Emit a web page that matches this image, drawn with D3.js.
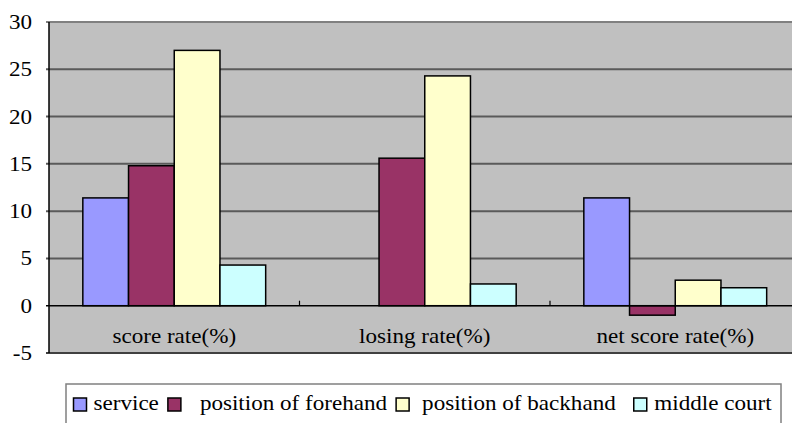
<!DOCTYPE html>
<html>
<head>
<meta charset="utf-8">
<script src="https://cdn.jsdelivr.net/npm/d3@7"></script>
</head>
<body style="margin:0;background:#fff">
<svg width="792" height="423"></svg>
<script>
// chart data
var categories = ["score rate(%)", "losing rate(%)", "net score rate(%)"];
var seriesNames = ["service", "position of forehand", "position of backhand", "middle court"];
var service   = [11.4, 0, 11.4];
var forehand  = [14.8, 15.6, -1.0];
var backhand  = [27.0, 24.3, 2.7];
var middle    = [4.3, 2.3, 1.9];
var yTicks = [-5, 0, 5, 10, 15, 20, 25, 30];

var seriesValues = [service, forehand, backhand, middle];
var colors = ["#9999ff", "#993366", "#ffffcc", "#ccffff"];
var stretch = 1.1; // text looks a bit wide in the original
var serif = "Liberation Serif, DejaVu Serif, serif";

var svg = d3.select("svg")
  .attr("font-family", serif)
  .attr("font-size", 21)
  .style("font-family", serif)
  .style("font-size", "21px");
var plot = { left: 49, top: 22, right: 800.5, bottom: 353 };

var x = d3.scaleBand().domain(categories).range([plot.left, plot.right]);
var xs = d3.scaleBand().domain(d3.range(seriesNames.length))
  .range([0, x.bandwidth()]).paddingInner(0).paddingOuter(0.74);
var y = d3.scaleLinear().domain([-5, 30]).range([plot.bottom, plot.top]);

// plot background
svg.append("rect")
  .attr("x", plot.left).attr("y", plot.top)
  .attr("width", plot.right - plot.left).attr("height", plot.bottom - plot.top)
  .attr("fill", "#c0c0c0");

// gridlines
svg.append("g").selectAll("line")
  .data(yTicks.filter(function(t){ return t != 0 && t != -5; }))
  .enter().append("line")
  .attr("x1", plot.left - 3).attr("x2", plot.right)
  .attr("y1", function(d){ return y(d); }).attr("y2", function(d){ return y(d); })
  .attr("stroke", function(d){ return d == 30 ? "#808080" : "#5a5a5a"; })
  .attr("stroke-width", 2);

// bottom border
svg.append("line")
  .attr("x1", plot.left - 3).attr("x2", plot.right)
  .attr("y1", y(-5)).attr("y2", y(-5))
  .attr("stroke", "#404040").attr("stroke-width", 2);

// bars
var groups = svg.append("g").selectAll("g")
  .data(categories).enter().append("g")
  .attr("transform", function(d){ return "translate(" + x(d) + ",0)"; });

groups.selectAll("rect")
  .data(function(d, i){
    return seriesValues.map(function(vals, s){ return { s: s, v: vals[i] }; });
  })
  .enter().filter(function(d){ return d.v != 0; }).append("rect")
  .attr("x", function(d){ return xs(d.s); })
  .attr("width", xs.bandwidth())
  .attr("y", function(d){ return y(Math.max(0, d.v)); })
  .attr("height", function(d){ return Math.abs(y(d.v) - y(0)); })
  .attr("fill", function(d){ return colors[d.s]; })
  .attr("stroke", "#000").attr("stroke-width", 1.5);

// zero line and category ticks
svg.append("line")
  .attr("x1", plot.left - 3).attr("x2", plot.right)
  .attr("y1", y(0)).attr("y2", y(0))
  .attr("stroke", "#000").attr("stroke-width", 1.5);

svg.append("g").selectAll("line")
  .data(categories.slice(1)).enter().append("line")
  .attr("x1", function(d){ return x(d); }).attr("x2", function(d){ return x(d); })
  .attr("y1", y(0) - 5).attr("y2", y(0))
  .attr("stroke", "#000").attr("stroke-width", 1.2);

// left axis
svg.append("line")
  .attr("x1", plot.left).attr("x2", plot.left)
  .attr("y1", plot.top).attr("y2", plot.bottom)
  .attr("stroke", "#000").attr("stroke-width", 1.5);

// y tick labels
svg.append("g").selectAll("text")
  .data(yTicks).enter().append("text")
  .attr("text-anchor", "end")
  .attr("transform", function(d){ return "translate(32," + (y(d) + 7) + ") scale(" + stretch + ",1)"; })
  .text(function(d){ return d; });

// category labels
svg.append("g").selectAll("text")
  .data(categories).enter().append("text")
  .attr("text-anchor", "middle")
  .attr("transform", function(d){ return "translate(" + (x(d) + x.bandwidth() / 2) + ",343) scale(" + stretch + ",1)"; })
  .text(function(d){ return d; });

// legend
var legend = svg.append("g");
legend.append("rect")
  .attr("x", 66).attr("y", 384).attr("width", 715).attr("height", 60)
  .attr("fill", "#fff").attr("stroke", "#808080").attr("stroke-width", 1.5);

var lx = 73.5;
var gapAfter = [9, 9, 18, 0];
var gapBefore = [7, 19, 13, 7.5];
seriesNames.forEach(function(name, i){
  legend.append("rect")
    .attr("x", lx).attr("y", 398).attr("width", 13).attr("height", 13)
    .attr("fill", colors[i]).attr("stroke", "#000").attr("stroke-width", 1.5);
  lx += 13 + gapBefore[i];
  var t = legend.append("text")
    .attr("transform", "translate(" + lx + ",410) scale(" + stretch + ",1)")
    .text(name);
  lx += t.node().getComputedTextLength() * stretch + gapAfter[i];
});
</script>
</body>
</html>
